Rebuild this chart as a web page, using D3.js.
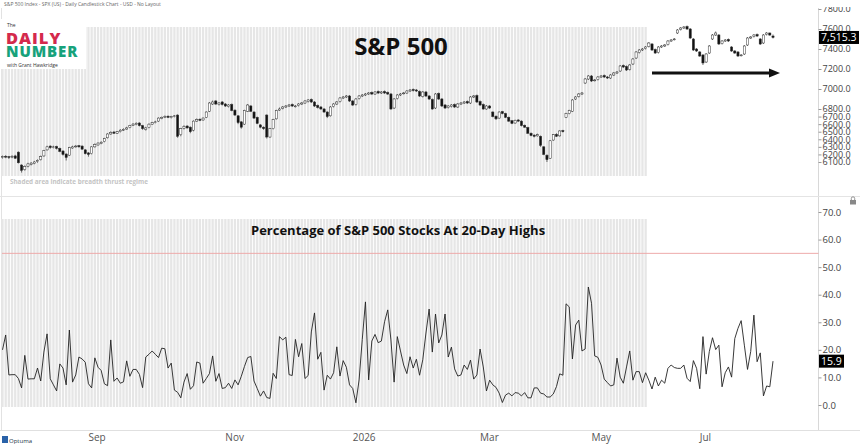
<!DOCTYPE html>
<html>
<head>
<meta charset="utf-8">
<title>S&amp;P 500 - Breadth Thrust</title>
<script src="https://cdn.jsdelivr.net/npm/d3@7"></script>
<style>
  body { margin: 0; background: #fff; }
  svg { display: block; font-family: "Open Sans", sans-serif; }
</style>
</head>
<body>
<svg id="chart" width="860" height="446"></svg>
<script>
// daily S&P 500 candles, Aug 2025 .. Jul 2026
var closes = [
  6170, 6165, 6160, 6175, 6150, 6090, 5990, 6040, 6075, 6085,
  6100, 6120, 6170, 6250, 6300, 6290, 6300, 6280, 6240, 6200,
  6160, 6290, 6300, 6310, 6300, 6270, 6210, 6200, 6300, 6330,
  6350, 6360, 6410, 6470, 6490, 6480, 6500, 6520, 6530, 6550,
  6580, 6600, 6610, 6580, 6540, 6550, 6600, 6620, 6630, 6680,
  6690, 6700, 6690, 6700, 6710, 6440, 6540, 6570, 6550, 6500,
  6640, 6660, 6650, 6680, 6760, 6860, 6870, 6850, 6860, 6845,
  6830, 6840, 6780, 6720, 6620, 6560, 6780, 6840, 6770, 6680,
  6610, 6560, 6540, 6430, 6540, 6660, 6780, 6800, 6820, 6830,
  6840, 6830, 6830, 6850, 6860, 6880, 6890, 6870, 6830, 6815,
  6800, 6760, 6700, 6820, 6850, 6870, 6910, 6920, 6930, 6880,
  6840, 6900, 6930, 6940, 6950, 6960, 6950, 6970, 6960, 6970,
  6960, 6950, 6800, 6900, 6940, 6950, 6960, 6980, 6990, 6985,
  6980, 6930, 6970, 6930, 6900, 6800, 6950, 6900, 6830, 6810,
  6830, 6840, 6820, 6850, 6860, 6870, 6860, 6920, 6930, 6870,
  6840, 6800, 6830, 6810, 6700, 6670, 6760, 6740, 6690, 6640,
  6610, 6650, 6640, 6580, 6560, 6480, 6450, 6440, 6460, 6320,
  6200, 6130, 6380, 6460, 6440, 6510, 6500, 6740, 6780, 6890,
  6920, 6950, 6960, 7100, 7130, 7080, 7090, 7120, 7130, 7120,
  7110, 7140, 7160, 7170, 7230, 7220, 7190, 7240, 7300, 7370,
  7390, 7400, 7420, 7460, 7390, 7360, 7420, 7430, 7440, 7480,
  7490, 7500, 7590, 7610, 7620, 7600, 7510, 7390, 7380, 7330,
  7260, 7350, 7430, 7540, 7560, 7450, 7480, 7490, 7480, 7380,
  7360, 7330, 7340, 7430, 7510, 7520, 7540, 7530, 7450, 7540,
  7560, 7540, 7515.3
];
var opens = [
  6160, 6175, 6170, 6165, 6180, 6230, 6060, 6000, 6045, 6070,
  6080, 6105, 6130, 6180, 6260, 6310, 6290, 6305, 6280, 6245,
  6205, 6190, 6285, 6300, 6315, 6310, 6260, 6220, 6210, 6300,
  6325, 6345, 6370, 6420, 6470, 6495, 6480, 6500, 6520, 6535,
  6555, 6585, 6595, 6615, 6580, 6530, 6555, 6600, 6620, 6640,
  6675, 6690, 6705, 6685, 6700, 6720, 6460, 6545, 6575, 6560,
  6520, 6640, 6665, 6655, 6690, 6770, 6850, 6880, 6845, 6870,
  6850, 6825, 6845, 6785, 6710, 6630, 6600, 6770, 6830, 6760,
  6690, 6590, 6560, 6720, 6430, 6540, 6670, 6785, 6805, 6820,
  6830, 6845, 6825, 6835, 6850, 6860, 6875, 6895, 6870, 6835,
  6820, 6800, 6760, 6710, 6825, 6850, 6875, 6910, 6920, 6930,
  6880, 6845, 6905, 6930, 6940, 6950, 6965, 6950, 6975, 6960,
  6975, 6965, 6950, 6810, 6905, 6940, 6955, 6960, 6980, 6995,
  6990, 6975, 6925, 6970, 6930, 6895, 6810, 6955, 6900, 6840,
  6815, 6825, 6845, 6820, 6850, 6860, 6875, 6860, 6920, 6935,
  6875, 6845, 6800, 6830, 6760, 6705, 6680, 6765, 6740, 6690,
  6645, 6615, 6655, 6640, 6585, 6555, 6480, 6455, 6445, 6440,
  6300, 6190, 6150, 6390, 6465, 6445, 6515, 6690, 6740, 6770,
  6900, 6925, 6950, 7060, 7100, 7130, 7085, 7095, 7120, 7135,
  7120, 7110, 7140, 7160, 7180, 7235, 7225, 7195, 7250, 7310,
  7365, 7390, 7405, 7425, 7450, 7395, 7365, 7420, 7430, 7445,
  7480, 7495, 7560, 7595, 7610, 7625, 7600, 7500, 7400, 7370,
  7340, 7270, 7360, 7500, 7540, 7540, 7455, 7480, 7495, 7420,
  7380, 7370, 7335, 7350, 7440, 7510, 7525, 7545, 7500, 7460,
  7545, 7560, 7530
];
var highs = [
  6185, 6190, 6180, 6190, 6195, 6240, 6070, 6055, 6090, 6100,
  6115, 6135, 6185, 6260, 6315, 6320, 6315, 6315, 6290, 6255,
  6215, 6300, 6315, 6325, 6325, 6320, 6270, 6230, 6310, 6345,
  6360, 6375, 6420, 6480, 6505, 6510, 6510, 6535, 6545, 6565,
  6590, 6615, 6625, 6625, 6590, 6565, 6610, 6630, 6645, 6690,
  6700, 6715, 6715, 6710, 6720, 6730, 6550, 6585, 6585, 6570,
  6650, 6675, 6675, 6690, 6770, 6870, 6885, 6890, 6870, 6880,
  6860, 6850, 6855, 6795, 6720, 6640, 6790, 6850, 6840, 6770,
  6700, 6600, 6570, 6730, 6550, 6670, 6790, 6815, 6830, 6840,
  6850, 6855, 6840, 6860, 6870, 6890, 6900, 6905, 6880, 6845,
  6830, 6810, 6770, 6830, 6860, 6880, 6920, 6930, 6940, 6940,
  6890, 6910, 6940, 6950, 6960, 6970, 6975, 6980, 6985, 6980,
  6985, 6975, 6960, 6910, 6950, 6960, 6970, 6990, 7000, 7005,
  7000, 6985, 6980, 6980, 6940, 6905, 6960, 6965, 6910, 6850,
  6840, 6850, 6855, 6860, 6870, 6880, 6885, 6930, 6940, 6945,
  6885, 6855, 6840, 6840, 6770, 6715, 6770, 6775, 6750, 6700,
  6655, 6660, 6665, 6650, 6595, 6565, 6490, 6465, 6475, 6450,
  6310, 6200, 6390, 6470, 6480, 6520, 6525, 6750, 6790, 6900,
  6930, 6960, 6970, 7110, 7140, 7140, 7100, 7130, 7140, 7145,
  7130, 7150, 7170, 7180, 7240, 7245, 7235, 7250, 7310, 7380,
  7400, 7410, 7430, 7470, 7460, 7405, 7430, 7440, 7450, 7490,
  7500, 7510, 7600, 7620, 7630, 7635, 7610, 7510, 7410, 7380,
  7350, 7360, 7440, 7550, 7575, 7550, 7490, 7500, 7505, 7430,
  7390, 7380, 7350, 7440, 7520, 7530, 7550, 7555, 7510, 7550,
  7570, 7565, 7545
];
var lows = [
  6145, 6150, 6140, 6150, 6140, 6080, 5960, 5985, 6030, 6055,
  6070, 6090, 6120, 6170, 6250, 6275, 6280, 6265, 6230, 6185,
  6120, 6180, 6275, 6290, 6290, 6260, 6200, 6170, 6200, 6290,
  6315, 6335, 6360, 6410, 6460, 6470, 6470, 6490, 6510, 6525,
  6545, 6575, 6585, 6570, 6525, 6515, 6545, 6590, 6610, 6630,
  6665, 6680, 6680, 6675, 6690, 6420, 6440, 6530, 6540, 6480,
  6505, 6630, 6640, 6645, 6680, 6760, 6840, 6840, 6835, 6835,
  6820, 6815, 6770, 6710, 6600, 6540, 6590, 6760, 6760, 6670,
  6600, 6545, 6525, 6410, 6420, 6530, 6660, 6775, 6795, 6810,
  6820, 6820, 6815, 6825, 6840, 6850, 6865, 6860, 6820, 6805,
  6790, 6750, 6680, 6700, 6815, 6840, 6865, 6900, 6910, 6870,
  6830, 6835, 6895, 6920, 6930, 6940, 6940, 6940, 6950, 6950,
  6950, 6940, 6790, 6800, 6895, 6930, 6945, 6950, 6970, 6975,
  6970, 6920, 6915, 6920, 6890, 6790, 6800, 6890, 6820, 6800,
  6805, 6815, 6810, 6810, 6840, 6850, 6850, 6850, 6910, 6860,
  6830, 6790, 6790, 6800, 6690, 6655, 6670, 6730, 6680, 6630,
  6600, 6605, 6630, 6570, 6550, 6470, 6440, 6425, 6435, 6300,
  6190, 6100, 6140, 6380, 6430, 6435, 6490, 6680, 6730, 6760,
  6890, 6915, 6940, 7050, 7090, 7070, 7075, 7085, 7110, 7110,
  7100, 7100, 7130, 7150, 7170, 7210, 7180, 7185, 7240, 7300,
  7355, 7380, 7395, 7415, 7380, 7350, 7355, 7410, 7420, 7435,
  7470, 7485, 7550, 7585, 7600, 7590, 7500, 7380, 7370, 7320,
  7240, 7260, 7350, 7490, 7530, 7440, 7445, 7470, 7470, 7370,
  7350, 7320, 7325, 7340, 7430, 7500, 7515, 7520, 7440, 7450,
  7535, 7530, 7505
];
// % of S&P 500 members at 20-day highs, same days
var pctHighs = [
  20, 25.4, 10.9, 11, 11, 9.6, 6.2, 18, 9.4, 9.5,
  9.5, 13.4, 8.7, 19.2, 25.8, 9.5, 7.3, 5.1, 14.9, 13.4,
  7.3, 27.2, 8.3, 10.9, 17.4, 16.7, 15.5, 7.7, 6.2, 17.1,
  13.7, 12.5, 7.7, 7.0, 23.6, 8.6, 9.8, 7.9, 8.4, 16.0,
  10.4, 12.9, 12.9, 11.1, 6.3, 17.4, 18.4, 19.6, 18.4, 17.2,
  20.6, 20.4, 13.4, 15.2, 5.4, 4.6, 2.6, 8.3, 11.4, 5.7,
  7.0, 15.6, 15.2, 7.9, 9.6, 11.4, 17.8, 8.6, 11.4, 6.0,
  6.3, 7.9, 6.0, 9.1, 7.3, 10.4, 14.0, 17.2, 17.6, 8.7,
  6.0, 3.2, 5.1, 2.7, 2.4, 11.5, 9.6, 24.8, 23.6, 24.6,
  11.0, 10.7, 23.8, 17.5, 22.3, 9.6, 10.7, 26.5, 33.4, 16.6,
  19.1, 5.4, 10.8, 9.4, 11.7, 21.1, 10.5, 16.1, 13.7, 7.3,
  6.0, 0.8, 9.1, 23.8, 37.4, 9.1, 23.2, 25.6, 22.6, 23.2,
  30.2, 34.5, 23.6, 8.3, 24.8, 19.6, 14.5, 11.4, 17.5, 13.4,
  16.6, 10.8,
  16.4, 26.1, 34.8, 19.2, 33.0, 22.5, 25.4, 33.0, 17.4, 21.0,
  13.1, 10.5, 10.9, 14.5, 12.9, 16.3, 9.4, 10.9, 20.3, 13.8,
  5.1, 9.0, 7.3, 6.4, 4.3, 0.9, 3.6, 4.3, 3.3, 4.5,
  4.3, 3.3, 4.5, 2.6, 2.6, 6.2, 6.2, 4.3, 4.0, 2.9,
  2.9, 4.0, 6.7, 11.3, 10.8, 36.7, 35.6, 16.7, 29.0, 30.8,
  19.6, 20.3, 42.8, 36.9, 17.8, 17.3, 14.5, 9.4, 8.1, 6.9,
  7.3, 17.0, 10.1, 7.9, 13.8, 19.6, 9.0, 12.1, 12.1, 8.1,
  11.7, 9.0, 5.8, 10.1, 6.9, 9.0, 7.9, 13.3, 14.5, 13.6,
  13.3, 13.3, 14.5, 9.7, 8.5, 16.1, 13.3, 5.9, 24.8, 11.2,
  19.4, 24.4, 20.1, 21.7, 6.6, 11.7, 13.8, 10.1, 24.1, 27.8,
  30.6, 21.7, 12.9, 19.4, 32.6, 15.7, 18.9, 3.3, 6.9, 6.6,
  15.9
];

var monthTicks  = [27, 70, 110, 150, 185, 219];   // bar index where each label sits
var monthLabels = ['Sep', 'Nov', '2026', 'Mar', 'May', 'Jul'];
var priceTicks  = [6100, 6200, 6300, 6400, 6500, 6600, 6700, 6800, 7000, 7200, 7400, 7600, 7800];
var pctTicks    = [0, 10, 20, 30, 40, 50, 60, 70];
var thrustRegime = [0, 202];   // first and last bar of the shaded regime
var thresholdLevel = 55;

var svg = d3.select('#chart');
var n = closes.length;

var x = d3.scaleLinear().domain([0, n - 1]).range([2.5, 773]);
var step = x(1) - x(0);
// the price axis is squeezed below 6800
var yPrice = d3.scaleLinear().domain([6100, 6800, 7800]).range([162, 109, 9]);
var yPct = d3.scaleLinear().domain([0, 70]).range([405, 212]);

var AXIS_X = 818.5;

// header
svg.append('text')
  .attr('x', 4).attr('y', 6)
  .attr('font-size', 5).attr('fill', '#666')
  .text('S&P 500 Index - SPX (US) - Daily Candlestick Chart - USD - No Layout');

// frame lines
svg.append('line').attr('x1', 1.5).attr('x2', 1.5).attr('y1', 8).attr('y2', 430).attr('stroke', '#e2e2e2');
svg.append('line').attr('x1', AXIS_X).attr('x2', AXIS_X).attr('y1', 8).attr('y2', 430).attr('stroke', '#d8d8d8');
svg.append('line').attr('x1', 0).attr('x2', 860).attr('y1', 196.5).attr('y2', 196.5).attr('stroke', '#e4e4e4');
svg.append('line').attr('x1', 0).attr('x2', 860).attr('y1', 430.5).attr('y2', 430.5).attr('stroke', '#e0e0e0');

// shaded breadth-thrust regime (striped bars)
var regimeBars = d3.range(thrustRegime[0], thrustRegime[1] + 1);
function stripes(y0, y1) {
  svg.append('g').selectAll('rect')
    .data(regimeBars).enter().append('rect')
    .attr('x', function(i) { return x(i) - step / 2 + 0.45; })
    .attr('width', step - 0.9)
    .attr('y', y0).attr('height', y1 - y0)
    .attr('fill', '#e6e6e6');
}
stripes(27, 176);
stripes(219, 407);

// logo
var logo = svg.append('g');
logo.append('rect').attr('x', 0).attr('y', 19).attr('width', 86).attr('height', 50).attr('fill', '#fff');
logo.append('text').attr('x', 7).attr('y', 27).attr('font-size', 5).attr('fill', '#333').text('The');
logo.append('text').attr('x', 6).attr('y', 44).attr('font-size', 16.5).attr('font-weight', 800)
  .attr('letter-spacing', 1).attr('fill', '#d42a4c').text('DAILY');
logo.append('text').attr('x', 6).attr('y', 57).attr('font-size', 15).attr('font-weight', 800)
  .attr('letter-spacing', 0.9).attr('fill', '#17a27b').text('NUMBER');
logo.append('text').attr('x', 7).attr('y', 66.5).attr('font-size', 5).attr('fill', '#333').text('with Grant Hawkridge');

// titles
svg.append('text').attr('x', 401).attr('y', 55).attr('text-anchor', 'middle')
  .attr('font-size', 24).attr('font-weight', 700).attr('fill', '#111').text('S&P 500');
svg.append('text').attr('x', 251).attr('y', 235)
  .attr('font-size', 13).attr('font-weight', 700).attr('fill', '#111')
  .text('Percentage of S&P 500 Stocks At 20-Day Highs');
svg.append('text').attr('x', 10).attr('y', 184)
  .attr('font-size', 6.3).attr('font-weight', 700).attr('fill', '#c4c4c4')
  .text('Shaded area indicate breadth thrust regime');

// candles
var candles = svg.append('g').selectAll('g')
  .data(closes).enter().append('g');
candles.append('line')
  .attr('x1', function(d, i) { return x(i); })
  .attr('x2', function(d, i) { return x(i); })
  .attr('y1', function(d, i) { return yPrice(highs[i]); })
  .attr('y2', function(d, i) { return yPrice(lows[i]); })
  .attr('stroke', '#333').attr('stroke-width', 0.7);
candles.append('rect')
  .attr('x', function(d, i) { return x(i) - 1.1; })
  .attr('width', 2.2)
  .attr('y', function(d, i) { return yPrice(Math.max(d, opens[i])); })
  .attr('height', function(d, i) { return Math.max(0.8, Math.abs(yPrice(d) - yPrice(opens[i]))); })
  .attr('fill', function(d, i) { return d < opens[i] ? '#111' : '#fff'; })
  .attr('stroke', '#333').attr('stroke-width', 0.5);

// arrow annotation
svg.append('line').attr('x1', 652).attr('x2', 771).attr('y1', 73).attr('y2', 73)
  .attr('stroke', '#111').attr('stroke-width', 3);
svg.append('path').attr('d', 'M769,68.5 L780,73 L769,77.5 Z').attr('fill', '#111');

// threshold line + breadth line
svg.append('line').attr('x1', 2).attr('x2', AXIS_X).attr('y1', yPct(thresholdLevel)).attr('y2', yPct(thresholdLevel))
  .attr('stroke', '#eeaaaa').attr('stroke-width', 1);
svg.append('path').datum(pctHighs)
  .attr('fill', 'none').attr('stroke', '#222').attr('stroke-width', 0.9)
  .attr('d', d3.line().x(function(d, i) { return x(i); }).y(function(d) { return yPct(d); }));

// right axes (clip rect is in the axis group's own coordinates)
svg.append('clipPath').attr('id', 'topclip').append('rect')
  .attr('x', -5).attr('y', 7).attr('width', 60).attr('height', 180);
var priceAxis = svg.append('g')
  .attr('transform', 'translate(' + AXIS_X + ',0)')
  .attr('clip-path', 'url(#topclip)')
  .call(d3.axisRight(yPrice).tickValues(priceTicks).tickFormat(d3.format('.1f')).tickSize(3).tickPadding(1));
var pctAxis = svg.append('g')
  .attr('transform', 'translate(' + AXIS_X + ',0)')
  .call(d3.axisRight(yPct).tickValues(pctTicks).tickFormat(d3.format('.1f')).tickSize(3).tickPadding(1));
[priceAxis, pctAxis].forEach(function(ax) {
  ax.select('.domain').remove();
  ax.selectAll('line').attr('stroke', '#999');
  ax.selectAll('text').attr('font-size', 9.5).attr('fill', '#444').attr('font-family', '"Open Sans", sans-serif');
});
priceAxis.selectAll('text').attr('font-size', 9);

// last value tags
function tag(yv, label, w) {
  svg.append('rect').attr('x', AXIS_X + 0.5).attr('y', yv - 6.5).attr('width', w).attr('height', 13).attr('fill', '#000');
  svg.append('text').attr('x', AXIS_X + 2.5).attr('y', yv + 4).attr('font-size', 10.5).attr('fill', '#fff').text(label);
}
tag(yPrice(closes[n - 1]), d3.format(',.1f')(closes[n - 1]), 40);
tag(yPct(pctHighs[n - 1]), d3.format('.1f')(pctHighs[n - 1]), 25);

// lock icon
svg.append('rect').attr('x', 850).attr('y', 200).attr('width', 6).attr('height', 4.5).attr('fill', '#888');
svg.append('path').attr('d', 'M851.3,200 v-1.5 a1.7,1.7 0 0 1 3.4,0 v1.5').attr('fill', 'none').attr('stroke', '#888').attr('stroke-width', 0.9);

// time axis
svg.append('g').selectAll('text')
  .data(monthTicks).enter().append('text')
  .attr('x', function(d) { return x(d); })
  .attr('y', 441)
  .attr('font-size', 10).attr('fill', '#555')
  .text(function(d, i) { return monthLabels[i]; });

// Optuma mark
svg.append('rect').attr('x', 2).attr('y', 436).attr('width', 6).attr('height', 7).attr('fill', '#2a62a8');
svg.append('text').attr('x', 9).attr('y', 442.5).attr('font-size', 6).attr('fill', '#234').text('Optuma');
</script>
</body>
</html>
